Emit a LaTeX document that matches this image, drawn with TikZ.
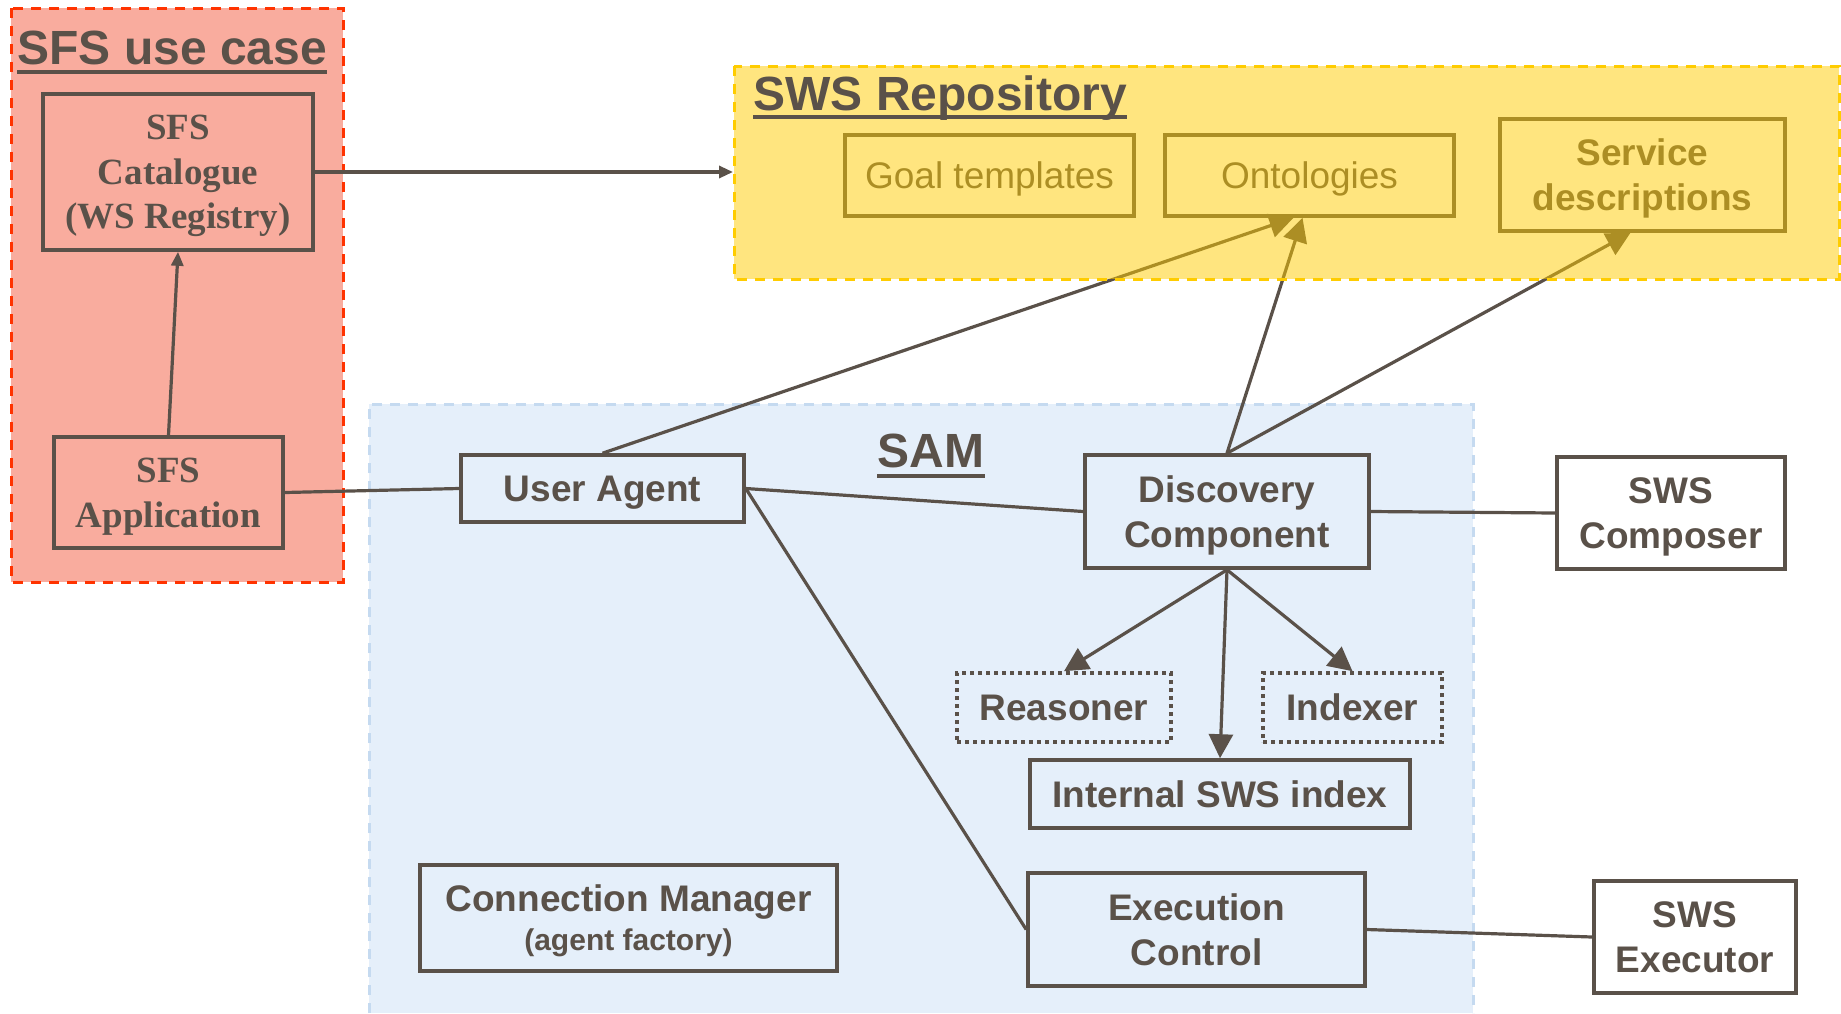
\documentclass[tikz,border=0pt]{standalone}
\usepackage{fontspec}
\setmainfont{Liberation Sans}
\newfontfamily\serifbf{Liberation Serif}
\usetikzlibrary{arrows.meta}
\definecolor{ink}{RGB}{90,81,73}
\definecolor{redfill}{RGB}{249,172,158}
\definecolor{redline}{RGB}{255,51,0}
\definecolor{yel}{RGB}{255,204,0}
\definecolor{bluefill}{RGB}{229,239,250}
\definecolor{blueline}{RGB}{197,218,240}
\begin{document}
\begin{tikzpicture}[x=0.5pt,y=-0.5pt,
 box/.style={draw=ink, line width=1.8pt, text=ink, font=\fontsize{18.5}{22.3}\selectfont\bfseries, align=center, inner sep=0pt},
 serifbox/.style={box, font=\fontsize{18.5}{22.3}\selectfont\serifbf\bfseries},
 repobox/.style={box, font=\fontsize{18.5}{22.3}\selectfont},
 dotbox/.style={box, dash pattern=on 1.8pt off 2.2pt},
 oneline/.style={text height=13.2pt, text depth=0pt},
 twolines/.style={text height=35.5pt, text depth=0pt},
 stwo/.style={text height=34.55pt, text depth=0pt},
 sthree/.style={text height=56.85pt, text depth=0pt},
 conn/.style={draw=ink, line width=1.6pt},
 arr/.style={conn, -{Triangle[length=12pt,width=12pt]}},
 sarr/.style={conn, -{Triangle[length=7pt,width=6pt]}},
 title/.style={text=ink, font=\fontsize{24}{28}\selectfont\bfseries, inner sep=0pt, anchor=base west},
 uline/.style={draw=ink, line width=2pt},
 frame/.style={line width=1.5pt, dash pattern=on 5pt off 4pt},
]
\useasboundingbox (0,0) rectangle (1841,1013);

% containers (below)
\fill[bluefill] (369,404) rectangle (1473,1013);
\draw[frame, draw=blueline] (369,1013) -- (369,404) -- (1473,404) -- (1473,1013);
\fill[redfill] (11,8) rectangle (343,582);
\draw[frame, draw=redline] (11,8) rectangle (343,582);

% nodes
\node[serifbox, sthree, minimum width=135pt, minimum height=78pt] (cat) at (178,172) {SFS\\Catalogue\\(WS Registry)};
\node[serifbox, stwo, minimum width=114.5pt, minimum height=55.5pt] (app) at (168.5,492.5) {SFS\\Application};
\node[repobox, oneline, minimum width=144.5pt, minimum height=40.5pt] (goal) at (989.5,175.5) {Goal templates};
\node[repobox, oneline, minimum width=144.5pt, minimum height=40.5pt] (onto) at (1309.5,175.5) {Ontologies};
\node[box, twolines, minimum width=142.5pt, minimum height=56pt] (serv) at (1642.5,175) {Service\\descriptions};
\node[box, oneline, minimum width=141.5pt, minimum height=33.5pt] (ua) at (602.5,488.5) {User Agent};
\node[box, twolines, minimum width=142pt, minimum height=56.5pt] (disc) at (1227,511.5) {Discovery\\Component};
\node[box, twolines, fill=white, minimum width=114pt, minimum height=56pt] (comp) at (1671,513) {SWS\\Composer};
\node[dotbox, oneline, minimum width=107pt, minimum height=34.5pt] (reas) at (1064,707.5) {Reasoner};
\node[dotbox, oneline, minimum width=89.5pt, minimum height=34.5pt] (idx) at (1352.5,707.5) {Indexer};
\node[box, oneline, minimum width=190pt, minimum height=34pt] (isws) at (1220,794) {Internal SWS index};
\node[box, text height=32.5pt, text depth=0pt, minimum width=208.5pt, minimum height=53pt] (cm) at (628.5,918) {Connection Manager\\[-3pt]{\fontsize{15}{18}\selectfont (agent factory)}};
\node[box, twolines, minimum width=168.5pt, minimum height=56.5pt] (ec) at (1196.5,929.5) {Execution\\Control};
\node[box, twolines, fill=white, minimum width=101pt, minimum height=56pt] (exe) at (1695,937) {SWS\\Executor};
\coordinate (repoW) at (733,172);

% connectors
\draw[sarr] (app.north) -- (cat.south);
\draw[sarr] (cat.east) -- (repoW);
\draw[conn] (app.east) -- (ua.west);
\draw[arr] (ua.north) -- ([xshift=-8pt]onto.south);
\draw[arr] (disc.north) -- ([xshift=-3.5pt]onto.south);
\draw[arr] (disc.north) -- ([xshift=-6pt]serv.south);
\draw[conn] (ua.east) -- (disc.west);
\draw[conn] (ua.east) -- (ec.west);
\draw[conn] (disc.east) -- (comp.west);
\draw[arr] (disc.south) -- (reas.north);
\draw[arr] (disc.south) -- (isws.north);
\draw[arr] (disc.south) -- (idx.north);
\draw[conn] (ec.east) -- (exe.west);

% translucent repository overlay
\fill[yel, opacity=0.5] (734,66) rectangle (1839,279);
\draw[frame, draw=yel] (734,66) rectangle (1839,279);

% titles
\node[title] (t1) at (17,64) {SFS use case};
\draw[uline] ([yshift=-4pt]t1.base west) -- ([yshift=-4pt]t1.base east);
\node[title] (t2) at (753,110) {SWS Repository};
\draw[uline] ([yshift=-3.5pt]t2.base west) -- ([yshift=-3.5pt]t2.base east);
\node[title, anchor=base] (t3) at (931,467) {SAM};
\draw[uline] ([yshift=-4.5pt]t3.base west) -- ([yshift=-4.5pt]t3.base east);
\end{tikzpicture}
\end{document}
